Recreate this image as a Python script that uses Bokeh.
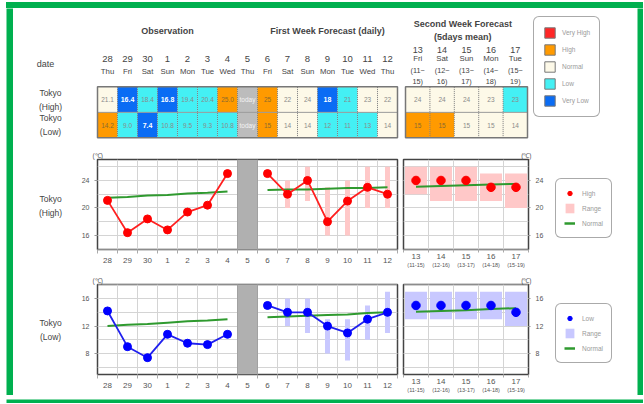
import numpy as np
from bokeh.plotting import figure
from bokeh.layouts import row, column
from bokeh.models import (Range1d, FixedTicker, LinearAxis, Legend, LegendItem,
                          BoxAnnotation, ColumnDataSource, Spacer)
from bokeh.embed import file_html
from bokeh.resources import INLINE
from bokeh.core.properties import value

NAN = float("nan")

# ---------------- data ----------------
DAYS = ["28", "29", "30", "1", "2", "3", "4", "5", "6", "7", "8", "9", "10", "11", "12"]
WEEKDAYS = ["Thu", "Fri", "Sat", "Sun", "Mon", "Tue", "Wed", "Thu", "Fri", "Sat", "Sun", "Mon", "Tue", "Wed", "Thu"]
TODAY = "5"
N_OBS = 7
WEEK2_DAYS = ["13", "14", "15", "16", "17"]
WEEK2_WEEKDAYS = ["Fri", "Sat", "Sun", "Mon", "Tue"]
WEEK2_FROM = ["11", "12", "13", "14", "15"]
WEEK2_TO = ["15", "16", "17", "18", "19"]

HIGH_TABLE = ["21.1", "16.4", "18.4", "16.8", "19.4", "20.4", "25.0", "today", "25", "22", "24", "18", "21", "23", "22"]
HIGH_CLASS = ["N", "VL", "L", "VL", "L", "L", "H", "T", "H", "N", "N", "VL", "L", "N", "N"]
LOW_TABLE = ["14.2", "9.0", "7.4", "10.8", "9.5", "9.3", "10.8", "today", "15", "14", "14", "12", "11", "13", "14"]
LOW_CLASS = ["H", "L", "VL", "L", "L", "L", "L", "T", "H", "N", "N", "L", "L", "L", "N"]
HIGH_W2_TABLE = ["24", "24", "24", "23", "23"]
HIGH_W2_CLASS = ["N", "N", "N", "N", "L"]
LOW_W2_TABLE = ["15", "15", "15", "15", "14"]
LOW_W2_CLASS = ["H", "H", "N", "N", "N"]

CLASS_NAMES = ["Very High", "High", "Normal", "Low", "Very Low"]
CLASS_CODES = ["VH", "H", "N", "L", "VL"]
CLASS_COLORS = ["#ff2626", "#ff9a00", "#fdf9e8", "#44f0f4", "#0a6cf4"]
TODAY_COLOR = "#bcbcbc"

HIGH_OBS = [21.1, 16.4, 18.4, 16.8, 19.4, 20.4, 25.0]
HIGH_FC = [25, 22, 24, 18, 21, 23, 22]
HIGH_FC_LO = [NAN, 20, 21, 16, 16, 20, 20]
HIGH_FC_HI = [NAN, 24, 26, 23, 24, 26, 26]
HIGH_NORM_OBS = [21.5, 21.6, 21.8, 21.9, 22.1, 22.2, 22.4]
HIGH_NORM_FC = [22.6, 22.7, 22.7, 22.8, 22.9, 22.9, 23.0]
HIGH_W2 = [24, 24, 24, 23, 23]
HIGH_W2_LO = [22, 21, 21, 21, 20]
HIGH_W2_HI = [26, 26, 26, 25, 25]
HIGH_NORM_W2 = [23.1, 23.2, 23.3, 23.4, 23.5]

LOW_OBS = [14.2, 9.0, 7.4, 10.8, 9.5, 9.3, 10.8]
LOW_FC = [15, 14, 14, 12, 11, 13, 14]
LOW_FC_LO = [NAN, 12, 11, 8, 7, 10, 11]
LOW_FC_HI = [NAN, 16, 16, 13, 13, 15, 17]
LOW_NORM_OBS = [12.0, 12.2, 12.3, 12.5, 12.7, 12.8, 13.0]
LOW_NORM_FC = [13.3, 13.4, 13.5, 13.6, 13.7, 13.9, 14.0]
LOW_W2 = [15, 15, 15, 15, 14]
LOW_W2_LO = [13, 13, 13, 13, 12]
LOW_W2_HI = [17, 17, 17, 17, 17]
LOW_NORM_W2 = [14.1, 14.2, 14.3, 14.5, 14.6]

HIGH_YLIM = (13.95, 27.05)
HIGH_TICKS = [16, 20, 24]
HIGH_GRID = [14, 16, 18, 20, 22, 24, 26]
LOW_YLIM = (4.95, 18.05)
LOW_TICKS = [8, 12, 16]
LOW_GRID = [6, 8, 10, 12, 14, 16, 18]

# ---------------- styles ----------------
GREEN = "#00b04f"
FONT = "Liberation Sans"
TXT = "#444444"
NORMAL_GREEN = "#2f9a2f"

idx = list(range(len(DAYS)))
obs_idx = idx[:N_OBS]
today_idx = DAYS.index(TODAY)
fc_idx = idx[today_idx + 1:]
w2 = list(range(len(WEEK2_DAYS)))
color_of = dict(zip(CLASS_CODES, CLASS_COLORS))
color_of["T"] = TODAY_COLOR


def blank(width, height, xr=(0, 1), yr=(0, 1), bg="white"):
    p = figure(width=width, height=height, x_range=Range1d(*xr), y_range=Range1d(*yr),
               output_backend="svg", toolbar_location=None, min_border=0,
               x_axis_location=None, y_axis_location=None, outline_line_color=None,
               background_fill_color=bg, border_fill_color=bg)
    p.grid.visible = False
    return p


def green_bar(width, height):
    return Spacer(width=width, height=height, styles={"background-color": GREEN})


def txt(p, x, y, t, size, color=TXT, bold=False, align="center", lh=1.2, **kw):
    p.text(x=x, y=y, text=t, text_font=value(FONT), text_font_size=value(size),
           text_color=color, text_font_style="bold" if bold else "normal",
           text_align=align, text_baseline="middle", text_line_height=lh, **kw)


# ---------------- top: headers + table ----------------
top = blank(624, 139, xr=(-4.7, 26.5), yr=(1.878, -3.573))
top.extra_x_ranges = {"w2": Range1d(-16.566, 9.008)}


def cell_source(xs, labels_rows, classes_rows):
    d = dict(x=[], y=[], fill=[], label=[], tcolor=[], fstyle=[], fsize=[])
    for r, (labels, classes) in enumerate(zip(labels_rows, classes_rows)):
        for x, lab, c in zip(xs, labels, classes):
            d["x"].append(x)
            d["y"].append(r)
            d["fill"].append(color_of[c])
            d["label"].append(lab)
            if c in ("VL", "VH"):
                d["tcolor"].append("white"); d["fstyle"].append("bold"); d["fsize"].append("7px")
            elif c == "T":
                d["tcolor"].append("#f4f4f4"); d["fstyle"].append("normal"); d["fsize"].append("6.5px")
            elif c == "H":
                d["tcolor"].append("#8a6a30"); d["fstyle"].append("normal"); d["fsize"].append("6.5px")
            else:
                d["tcolor"].append("#8a8a8a"); d["fstyle"].append("normal"); d["fsize"].append("6.5px")
    return ColumnDataSource(d)


for xs, rows_l, rows_c, rname in [
        (idx, [HIGH_TABLE, LOW_TABLE], [HIGH_CLASS, LOW_CLASS], "default"),
        (w2, [HIGH_W2_TABLE, LOW_W2_TABLE], [HIGH_W2_CLASS, LOW_W2_CLASS], "w2")]:
    src = cell_source(xs, rows_l, rows_c)
    top.rect(x="x", y="y", width=1, height=1, fill_color="fill", line_color=None,
             source=src, x_range_name=rname)
    top.text(x="x", y="y", text="label", text_color="tcolor", text_font_style="fstyle",
             text_font_size="fsize", text_font=value(FONT), text_align="center",
             text_baseline="middle", source=src, x_range_name=rname)
    bounds = [x + 0.5 for x in xs[:-1]]
    top.segment(x0=bounds, y0=-0.5, x1=bounds, y1=1.5, line_color="#777777",
                line_dash="1 1", line_width=1, x_range_name=rname)
    top.segment(x0=[xs[0] - 0.5], y0=0.5, x1=[xs[-1] + 0.5], y1=0.5,
                line_color="#999999", line_width=1, x_range_name=rname)
    top.rect(x=[(xs[0] + xs[-1]) / 2], y=0.5, width=len(xs), height=2, fill_color=None,
             line_color="#777777", line_width=1.5, x_range_name=rname)

txt(top, [float(np.mean(obs_idx))], -2.71, ["Observation"], "9px", bold=True)
txt(top, [float(np.mean(fc_idx))], -2.71, ["First Week Forecast (daily)"], "9px", bold=True)
txt(top, [float(np.mean(w2)) - 0.15], -2.72, ["Second Week Forecast\n(5days mean)"], "9px",
    bold=True, lh=1.25, x_range_name="w2")
txt(top, idx, -1.60, DAYS, "9.5px")
txt(top, idx, -1.11, WEEKDAYS, "7.8px")
txt(top, w2, -1.95, WEEK2_DAYS, "9px", x_range_name="w2")
txt(top, w2, -1.60, WEEK2_WEEKDAYS, "7.8px", x_range_name="w2")
txt(top, w2, -0.93, ["(%s~\n%s)" % (a, b) for a, b in zip(WEEK2_FROM, WEEK2_TO)], "7.3px",
    lh=1.25, x_range_name="w2")
txt(top, [-3.1], -1.38, ["date"], "9px")
txt(top, [-2.85, -2.85], [0, 1], ["Tokyo\n(High)", "Tokyo\n(Low)"], "8.5px", lh=1.4)

# legend swatches: dummy renderers placed outside the visible range
items = []
for name, col in zip(CLASS_NAMES, CLASS_COLORS):
    r = top.quad(left=[-60], right=[-59], bottom=[-60], top=[-59], fill_color=col,
                 line_color="#777777")
    items.append(LegendItem(label=name, renderers=[r]))
cleg = Legend(items=items, location=(520, 30), glyph_width=13, glyph_height=13, spacing=4,
              padding=9, label_standoff=6, label_height=13, label_width=10,
              label_text_font_size="6.5px", label_text_color="#9a9a9a",
              label_text_font=FONT, border_line_color="#555555", border_line_width=1, margin=0,
              background_fill_alpha=1)
try:
    cleg.border_radius = 6
except Exception:
    pass
top.add_layout(cleg)


# ---------------- charts ----------------
def style_title(p, align, offset):
    p.title.text_font_size = "6.5px"
    p.title.text_font_style = "normal"
    p.title.text_color = "#555555"
    p.title.text_font = FONT
    p.title.standoff = 2
    p.title.align = align
    p.title.offset = offset


def first_panel(height, tb, bb, ticks, grid, obs, fc, lo, hi, n_obs, n_fc,
                line_col, dot_col, rng_col, yr):
    p = figure(width=327, height=height, x_range=Range1d(-0.5, len(DAYS) - 0.5), y_range=yr,
               output_backend="svg", toolbar_location=None, min_border_left=24,
               min_border_right=3, min_border_top=tb, min_border_bottom=bb,
               outline_line_color="#444444", outline_line_width=1.5, title="(℃)")
    style_title(p, "left", -5)
    xt = FixedTicker(ticks=idx, minor_ticks=[i - 0.5 for i in range(len(DAYS) + 1)])
    p.xaxis.ticker = xt
    p.xgrid.ticker = xt
    p.xaxis.major_label_overrides = {i: d for i, d in enumerate(DAYS)}
    p.xaxis.major_tick_line_color = None
    p.xaxis.major_tick_out = 0
    p.xaxis.minor_tick_out = 4
    p.xaxis.minor_tick_in = 0
    p.xaxis.minor_tick_line_color = "#aaaaaa"
    p.xaxis.axis_line_color = None
    p.xaxis.major_label_standoff = 4
    p.xgrid.grid_line_color = None
    p.xgrid.minor_grid_line_color = "#d4d4d4"
    yt = FixedTicker(ticks=ticks, minor_ticks=grid)
    p.yaxis.ticker = yt
    p.ygrid.ticker = yt
    p.yaxis.minor_tick_line_color = None
    p.yaxis.major_tick_out = 3
    p.yaxis.major_tick_in = 0
    p.yaxis.major_tick_line_color = "#999999"
    p.yaxis.axis_line_color = None
    p.yaxis.major_label_standoff = 4
    p.ygrid.grid_line_color = "#d4d4d4"
    p.ygrid.minor_grid_line_color = "#d4d4d4"
    for ax in (p.xaxis, p.yaxis):
        ax.major_label_text_font = FONT
        ax.major_label_text_color = "#555555"
    p.xaxis.major_label_text_font_size = "8px"
    p.yaxis.major_label_text_font_size = "7px"

    p.vbar(x=fc_idx, width=0.25, bottom=lo, top=hi, fill_color=rng_col, line_color=None)
    p.line(obs_idx, n_obs, line_color=NORMAL_GREEN, line_width=2)
    p.line(fc_idx, n_fc, line_color=NORMAL_GREEN, line_width=2)
    p.line(obs_idx, obs, line_color=line_col, line_width=1.8)
    p.line(fc_idx, fc, line_color=line_col, line_width=1.8)
    p.scatter(obs_idx, obs, size=8, fill_color=dot_col, line_color=dot_col)
    p.scatter(fc_idx, fc, size=8, fill_color=dot_col, line_color=dot_col)
    p.add_layout(BoxAnnotation(left=today_idx - 0.5, right=today_idx + 0.5, fill_color="#b0b0b0",
                               fill_alpha=1, line_color="#555555", line_width=1))
    return p


def second_panel(height, tb, bb, ticks, grid, vals, lo, hi, norm, dot_col, rng_col, yr):
    p = figure(width=150, height=height, x_range=Range1d(-0.5, len(w2) - 0.5), y_range=yr,
               y_axis_location="right", output_backend="svg", toolbar_location=None,
               min_border_left=3, min_border_right=22, min_border_top=tb, min_border_bottom=bb,
               outline_line_color="#444444", outline_line_width=1.5, title="(℃)")
    style_title(p, "right", -3)
    xt = FixedTicker(ticks=w2, minor_ticks=[i - 0.5 for i in range(len(w2) + 1)])
    p.xaxis.ticker = xt
    p.xgrid.ticker = xt
    p.xaxis.major_label_overrides = {i: d for i, d in enumerate(WEEK2_DAYS)}
    p.xaxis.major_tick_line_color = None
    p.xaxis.major_tick_out = 0
    p.xaxis.minor_tick_out = 3
    p.xaxis.minor_tick_in = 0
    p.xaxis.minor_tick_line_color = "#aaaaaa"
    p.xaxis.axis_line_color = None
    p.xaxis.major_label_standoff = 1
    p.xaxis.major_label_text_font_size = "8px"
    p.xgrid.grid_line_color = None
    p.xgrid.minor_grid_line_color = "#d4d4d4"
    ax2 = LinearAxis(ticker=FixedTicker(ticks=w2),
                     major_label_overrides={i: "(%s-%s)" % (a, b) for i, (a, b) in
                                            enumerate(zip(WEEK2_FROM, WEEK2_TO))},
                     axis_line_color=None, major_tick_line_color=None, minor_tick_line_color=None,
                     major_tick_out=0, minor_tick_out=0, major_label_standoff=0,
                     major_label_text_font_size="5.5px", major_label_text_font=FONT,
                     major_label_text_color="#555555")
    p.add_layout(ax2, "below")
    yt = FixedTicker(ticks=ticks, minor_ticks=grid)
    p.yaxis.ticker = yt
    p.ygrid.ticker = yt
    p.yaxis.minor_tick_line_color = None
    p.yaxis.major_tick_out = 2
    p.yaxis.major_tick_in = 0
    p.yaxis.major_tick_line_color = "#999999"
    p.yaxis.axis_line_color = None
    p.yaxis.major_label_standoff = 3
    p.yaxis.major_label_text_font_size = "7px"
    p.ygrid.grid_line_color = "#d4d4d4"
    p.ygrid.minor_grid_line_color = "#d4d4d4"
    for ax in (p.xaxis[0], p.yaxis):
        ax.major_label_text_font = FONT
        ax.major_label_text_color = "#555555"

    p.vbar(x=w2, width=0.88, bottom=lo, top=hi, fill_color=rng_col, line_color=None)
    p.line(w2, norm, line_color=NORMAL_GREEN, line_width=2)
    p.scatter(w2, vals, size=8.5, fill_color=dot_col, line_color=dot_col)
    return p


def legend_panel(height, name, dot_col, rng_col, bottom):
    lf = blank(87, height)
    r1 = lf.scatter(x=[-5], y=[-5], marker="circle", size=7, fill_color=dot_col,
                    line_color=dot_col)
    r2 = lf.quad(left=[-6], right=[-5], top=[-5], bottom=[-6], fill_color=rng_col,
                 line_color=None)
    r3 = lf.line(x=[-6, -5], y=[-5, -5], line_color=NORMAL_GREEN, line_width=2.5)
    leg = Legend(items=[LegendItem(label=name, renderers=[r1]),
                        LegendItem(label="Range", renderers=[r2]),
                        LegendItem(label="Normal", renderers=[r3])],
                 location=(5, bottom), glyph_width=11, glyph_height=12, spacing=3, padding=8,
                 label_standoff=7, label_height=12, label_width=10,
                 label_text_font_size="6.5px", label_text_color="#9a9a9a",
                 label_text_font=FONT, border_line_color="#555555", border_line_width=1,
                 margin=0, background_fill_alpha=1)
    try:
        leg.border_radius = 6
    except Exception:
        pass
    lf.add_layout(leg)
    return lf


def label_panel(height, text, yc):
    lp = blank(60, height)
    txt(lp, [0.617], yc, [text], "8.5px", lh=1.4)
    return lp


yr_h = Range1d(*HIGH_YLIM)
yr_l = Range1d(*LOW_YLIM)

RED_LINE, RED_DOT, RED_RNG = "#ff2020", "#ff0000", "#ffc8c8"
BLUE_LINE, BLUE_DOT, BLUE_RNG = "#2020ee", "#0000ff", "#c8c8ff"

c1h = first_panel(125, 12, 23, HIGH_TICKS, HIGH_GRID, HIGH_OBS, HIGH_FC, HIGH_FC_LO,
                  HIGH_FC_HI, HIGH_NORM_OBS, HIGH_NORM_FC, RED_LINE, RED_DOT, RED_RNG, yr_h)
c2h = second_panel(125, 12, 23, HIGH_TICKS, HIGH_GRID, HIGH_W2, HIGH_W2_LO, HIGH_W2_HI,
                   HIGH_NORM_W2, RED_DOT, RED_RNG, yr_h)
c1l = first_panel(123, 12, 21, LOW_TICKS, LOW_GRID, LOW_OBS, LOW_FC, LOW_FC_LO,
                  LOW_FC_HI, LOW_NORM_OBS, LOW_NORM_FC, BLUE_LINE, BLUE_DOT, BLUE_RNG, yr_l)
c2l = second_panel(123, 12, 21, LOW_TICKS, LOW_GRID, LOW_W2, LOW_W2_LO, LOW_W2_HI,
                   LOW_NORM_W2, BLUE_DOT, BLUE_RNG, yr_l)

row_h = row(label_panel(125, "Tokyo\n(High)", 0.48), c1h, c2h,
            legend_panel(125, "High", RED_DOT, RED_RNG, 11))
row_l = row(label_panel(123, "Tokyo\n(Low)", 0.49), c1l, c2l,
            legend_panel(123, "Low", BLUE_DOT, BLUE_RNG, 11))

inner = column(top, row_h, row_l)
page = row(Spacer(width=6, height=403),
           column(Spacer(width=637, height=2),
                  green_bar(637, 6),
                  row(blank(7, 387, bg=GREEN), inner, blank(6, 387, bg=GREEN)),
                  blank(637, 8, bg=GREEN)))

open("out.html", "w").write(file_html(page, INLINE, "Tokyo temperature"))
